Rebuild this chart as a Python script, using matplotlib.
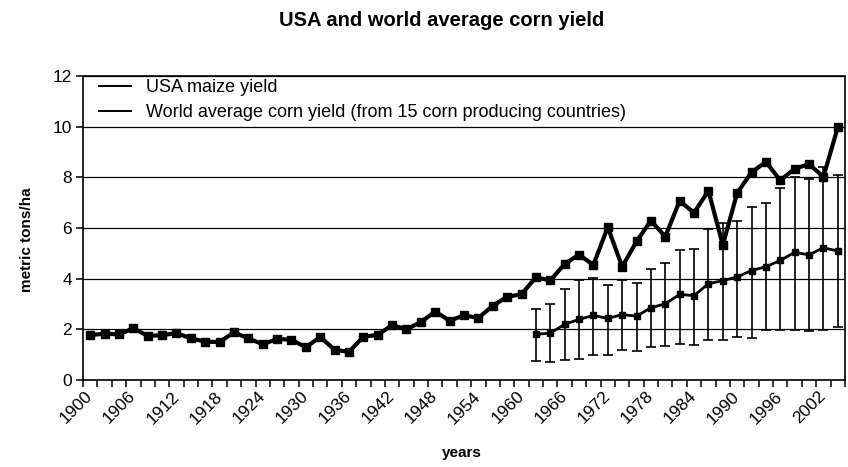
import matplotlib
matplotlib.use("Agg")
import matplotlib.pyplot as plt
from matplotlib.lines import Line2D

plt.rcParams['font.family'] = ['Liberation Sans', 'DejaVu Sans']

# categories on the x axis (every 2 years)
years = [1900, 1902, 1904, 1906, 1908, 1910, 1912, 1914, 1916, 1918,
         1920, 1922, 1924, 1926, 1928, 1930, 1932, 1934, 1936, 1938,
         1940, 1942, 1944, 1946, 1948, 1950, 1952, 1954, 1956, 1958,
         1960, 1962, 1964, 1966, 1968, 1970, 1972, 1974, 1976, 1978,
         1980, 1982, 1984, 1986, 1988, 1990, 1992, 1994, 1996, 1998,
         2000, 2002, 2004]
tick_years = [1900, 1906, 1912, 1918, 1924, 1930, 1936, 1942, 1948,
              1954, 1960, 1966, 1972, 1978, 1984, 1990, 1996, 2002]

# USA maize yield, metric tons/ha
usa_yield = [1.77, 1.83, 1.80, 2.04, 1.74, 1.77, 1.85, 1.65, 1.51, 1.50,
             1.88, 1.64, 1.41, 1.62, 1.59, 1.29, 1.70, 1.19, 1.11, 1.71,
             1.78, 2.17, 2.00, 2.29, 2.70, 2.34, 2.55, 2.45, 2.93, 3.28,
             3.39, 4.05, 3.93, 4.58, 4.95, 4.54, 6.04, 4.47, 5.47, 6.29,
             5.66, 7.07, 6.60, 7.47, 5.33, 7.38, 8.20, 8.61, 7.88, 8.34,
             8.52, 8.02, 9.98]

# world average (15 countries) with spread
world_years = [1962, 1964, 1966, 1968, 1970, 1972, 1974, 1976, 1978, 1980, 1982,
               1984, 1986, 1988, 1990, 1992, 1994, 1996, 1998, 2000, 2002, 2004]
world_yield = [1.80, 1.85, 2.20, 2.39, 2.55, 2.43, 2.58, 2.52, 2.85, 3.01, 3.38,
               3.33, 3.80, 3.92, 4.07, 4.32, 4.47, 4.72, 5.04, 4.94, 5.22, 5.09]
world_high = [2.82, 3.00, 3.58, 3.93, 4.02, 3.76, 3.95, 3.82, 4.38, 4.61, 5.15,
              5.18, 5.95, 6.21, 6.27, 6.81, 6.98, 7.56, 8.00, 7.93, 8.41, 8.08]
world_low = [0.75, 0.73, 0.78, 0.82, 1.00, 0.99, 1.20, 1.15, 1.31, 1.36, 1.41,
             1.40, 1.59, 1.58, 1.68, 1.67, 1.98, 1.97, 1.96, 1.93, 1.98, 2.11]

W, H = 848, 467
fig = plt.figure(figsize=(W / 100, H / 100), dpi=100)
ax = fig.add_axes([83 / W, 87 / H, 762 / W, 304 / H])

x_usa = [years.index(y) for y in years]
x_world = [years.index(y) for y in world_years]
err_lo = [v - lo for v, lo in zip(world_yield, world_low)]
err_hi = [hi - v for v, hi in zip(world_yield, world_high)]

ax.errorbar(x_world, world_yield, yerr=[err_lo, err_hi], fmt='none',
            ecolor='black', elinewidth=1.2, capsize=3.8, capthick=1.2, zorder=3)
ax.plot(x_world, world_yield, color='black', lw=2, marker='s', ms=4.5, zorder=4)
ax.plot(x_usa, usa_yield, color='black', lw=3, marker='s', ms=6, zorder=5)

ax.set_xlim(-0.5, len(years) - 0.5)
ax.set_ylim(0, 12)
ax.set_yticks([0, 2, 4, 6, 8, 10, 12])
ax.yaxis.grid(True, color='black', lw=0.9)
ax.set_axisbelow(True)

ax.set_xticks([years.index(y) for y in tick_years])
ax.set_xticklabels([str(y) for y in tick_years], rotation=45,
                   ha='right', va='center', rotation_mode='anchor')
ax.set_xticks([i - 0.5 for i in range(len(years) + 1)], minor=True)
ax.tick_params(axis='x', which='major', length=0, pad=10, labelsize=12.5)
ax.tick_params(axis='x', which='minor', length=5, width=1.1, direction='out')
ax.tick_params(axis='y', length=5, width=1.1, labelsize=12.5, pad=3)

for s in ax.spines.values():
    s.set_linewidth(1.2)

handles = [Line2D([], [], color='black', lw=1.4),
           Line2D([], [], color='black', lw=1.4)]
ax.legend(handles, ['USA maize yield',
                    'World average corn yield (from 15 corn producing countries)'],
          loc='upper left', bbox_to_anchor=(0.0095, 1.02), frameon=False,
          fontsize=13, borderpad=0, handlelength=1.75, handletextpad=0.85,
          labelspacing=0.47)

fig.text(442 / W, 1 - 21 / H, 'USA and world average corn yield',
         ha='center', va='center', fontsize=14.5, weight='bold')
fig.text(27 / W, 1 - 240 / H, 'metric tons/ha', rotation=90,
         ha='center', va='center', fontsize=11, weight='bold')
fig.text(462 / W, 1 - 453 / H, 'years', ha='center', va='center',
         fontsize=11, weight='bold')

fig.savefig('out.png', dpi=100)
